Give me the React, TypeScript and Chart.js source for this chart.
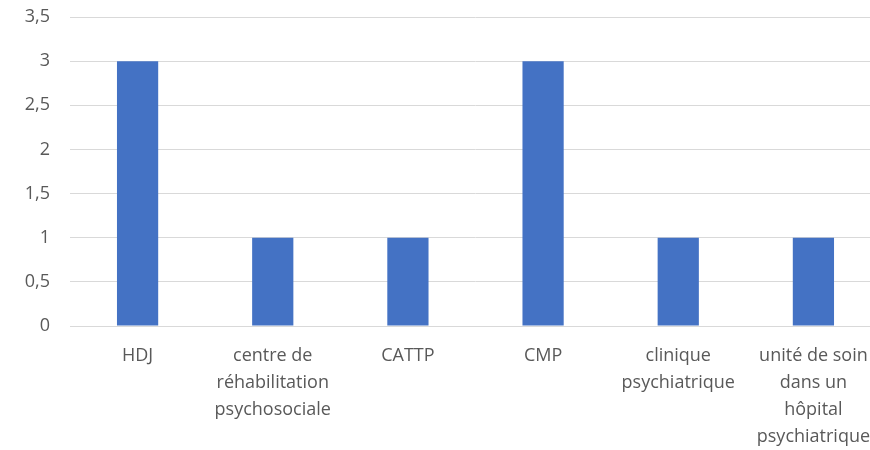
import React, { useEffect, useRef } from "react";
import { Chart, registerables } from "chart.js";

Chart.register(...registerables);

const categories: (string | string[])[] = [
  "HDJ",
  ["centre de", "réhabilitation", "psychosociale"],
  "CATTP",
  "CMP",
  ["clinique", "psychiatrique"],
  ["unité de soin", "dans un", "hôpital", "psychiatrique"],
];
const values: number[] = [3, 1, 1, 3, 1, 1];
const yTicks: number[] = [0, 0.5, 1, 1.5, 2, 2.5, 3, 3.5];

const FONT = "'Open Sans', Lato, sans-serif";
const TEXT = "#595959";
const GRID = "#d9d9d9";
const BAR = "#4472C4";

export default function App() {
  const ref = useRef<HTMLCanvasElement | null>(null);
  useEffect(() => {
    document.body.style.margin = "0";
    const ctx = ref.current!;
    const chart = new Chart(ctx, {
      type: "bar",
      data: {
        labels: categories,
        datasets: [
          {
            data: values,
            backgroundColor: BAR,
            borderWidth: 0,
            categoryPercentage: 1,
            barPercentage: 0.305,
          },
        ],
      },
      options: {
        animation: false,
        responsive: false,
        maintainAspectRatio: false,
        layout: { padding: { top: 17, right: 0, left: 0, bottom: 0 } },
        plugins: { legend: { display: false }, tooltip: { enabled: false } },
        scales: {
          x: {
            offset: true,
            grid: { display: false, drawTicks: false },
            border: { display: true, color: GRID, width: 1 },
            ticks: {
              color: TEXT,
              font: { family: FONT, size: 18, lineHeight: 1.5 },
              padding: 16,
              maxRotation: 0,
              autoSkip: false,
            },
            afterFit: (s: any) => {
              s.height = 124;
              s.paddingLeft = 0;
              s.paddingRight = 0;
            },
          },
          y: {
            min: 0,
            max: 3.5,
            afterBuildTicks: (s: any) => {
              s.ticks = yTicks.map((v) => ({ value: v }));
            },
            grid: { color: GRID, drawTicks: false },
            border: { display: false },
            ticks: {
              color: TEXT,
              font: { family: FONT, size: 18 },
              padding: 20,
              callback: (v: any) => String(v).replace(".", ","),
            },
            afterFit: (s: any) => {
              s.width = 70;
              s.paddingTop = 0;
              s.paddingBottom = 0;
            },
          },
        },
      },
    });
    return () => chart.destroy();
  }, []);
  return (
    <div
      style={{
        position: "absolute",
        left: 0,
        top: 0,
        width: 870,
        height: 450,
        overflow: "hidden",
        background: "#fff",
      }}
    >
      <canvas ref={ref} width={881} height={450} style={{ width: 881, height: 450, display: "block" }} />
    </div>
  );
}
